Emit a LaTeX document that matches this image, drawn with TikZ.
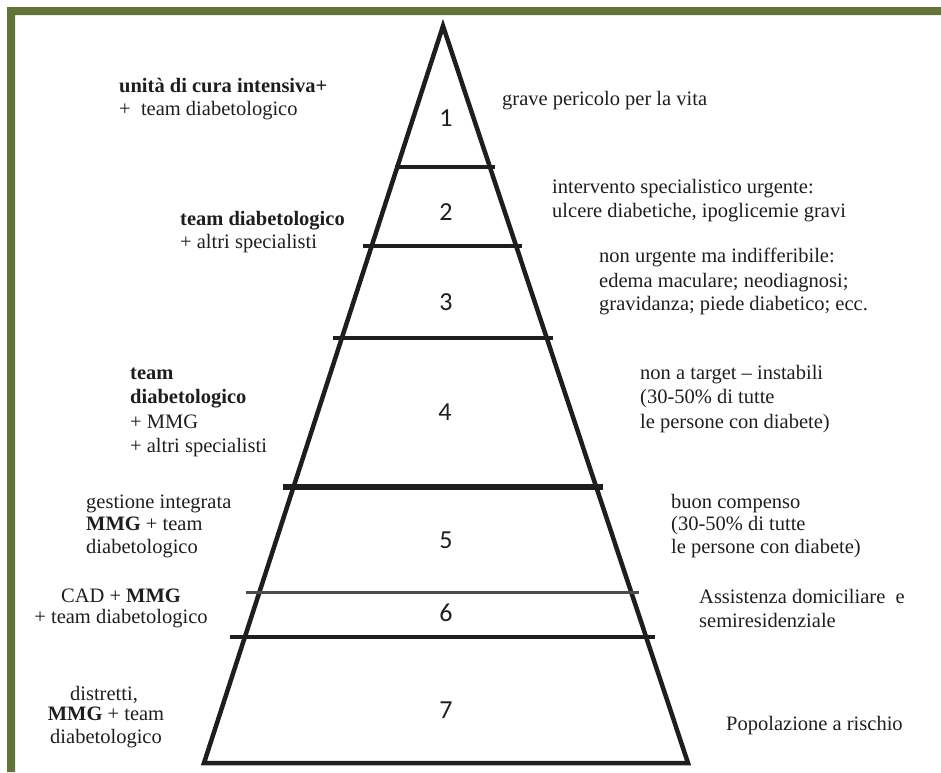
\documentclass[tikz,border=0pt]{standalone}
\usepackage{fontspec}
\setmainfont{Liberation Serif}
\newfontfamily\numfont{Carlito}
\definecolor{frame}{RGB}{99,116,57}
\definecolor{ink}{RGB}{30,30,30}
\tikzset{
  txt/.style={anchor=base west, inner sep=0pt, font=\fontsize{20.5}{24}\selectfont, text=ink},
  ctxt/.style={anchor=base, inner sep=0pt, font=\fontsize{20.5}{24}\selectfont, text=ink},
  num/.style={inner sep=0pt, font=\numfont\fontsize{26}{26}\selectfont, text=ink},
  pyr/.style={line width=4.5pt, line join=miter, draw=ink},
  bar/.style={line width=4pt, draw=ink},
}
\begin{document}
\begin{tikzpicture}[x=1pt,y=-1pt]
\useasboundingbox (0,0) rectangle (941,772);
\fill[frame] (7,7) -- (941,7) -- (941,15) -- (15,15) -- (15,772) -- (7,772) -- cycle;
% pyramid
\draw[pyr] (443,26) -- (688,763) -- (204,763) -- cycle;
\draw[bar] (395,167) -- (495,167);
\draw[bar] (363,246) -- (522,246);
\draw[bar] (333,338) -- (553,338);
\draw[bar, line width=6pt] (283,487) -- (603,487);
\draw[bar, line width=3pt, draw=ink!80] (246,592) -- (639,592);
\draw[bar] (230,637) -- (655,637);
% numbers
\node[num] (n1) at (446,118) {1};
\node[num] (n2) at (446,212) {2};
\node[num] (n3) at (446,302) {3};
\node[num] (n4) at (445,412) {4};
\node[num] (n5) at (446,540) {5};
\node[num] (n6) at (446,613) {6};
\node[num] (n7) at (446,710) {7};
% left texts
\node[txt] (l1a) at (119,92) {\textbf{unità di cura intensiva+}};
\node[txt] (l1b) at (119,115) {+\ \ team diabetologico};
\node[txt] (l2a) at (180,225) {\textbf{team diabetologico}};
\node[txt] (l2b) at (180,248) {+ altri specialisti};
\node[txt] (l4a) at (130,379) {\textbf{team}};
\node[txt] (l4b) at (130,403) {\textbf{diabetologico}};
\node[txt] (l4c) at (130,428) {+ MMG};
\node[txt] (l4d) at (130,452) {+ altri specialisti};
\node[txt] (l5a) at (86,508) {gestione integrata};
\node[txt] (l5b) at (86,530) {\textbf{MMG} + team};
\node[txt] (l5c) at (86,553) {diabetologico};
\node[ctxt] (l6a) at (121,602) {CAD + \textbf{MMG}};
\node[ctxt] (l6b) at (121,623) {+ team diabetologico};
\node[ctxt] (l7a) at (104,700) {distretti,};
\node[ctxt] (l7b) at (106,720) {\textbf{MMG} + team};
\node[ctxt] (l7c) at (106,743) {diabetologico};
% right texts
\node[txt] (r1a) at (502,105) {grave pericolo per la vita};
\node[txt] (r2a) at (552,193) {intervento specialistico urgente:};
\node[txt] (r2b) at (552,217) {ulcere diabetiche, ipoglicemie gravi};
\node[txt] (r3a) at (599,262) {non urgente ma indifferibile:};
\node[txt] (r3b) at (599,287) {edema maculare; neodiagnosi;};
\node[txt] (r3c) at (599,310) {gravidanza; piede diabetico; ecc.};
\node[txt] (r4a) at (640,379) {non a target -- instabili};
\node[txt] (r4b) at (640,403) {(30-50\% di tutte};
\node[txt] (r4c) at (640,428) {le persone con diabete)};
\node[txt] (r5a) at (671,508) {buon compenso};
\node[txt] (r5b) at (671,530) {(30-50\% di tutte};
\node[txt] (r5c) at (671,553) {le persone con diabete)};
\node[txt] (r6a) at (699,603) {Assistenza domiciliare\ \ e};
\node[txt] (r6b) at (699,627) {semiresidenziale};
\node[txt] (r7a) at (726,730) {Popolazione a rischio};
\end{tikzpicture}
\end{document}
